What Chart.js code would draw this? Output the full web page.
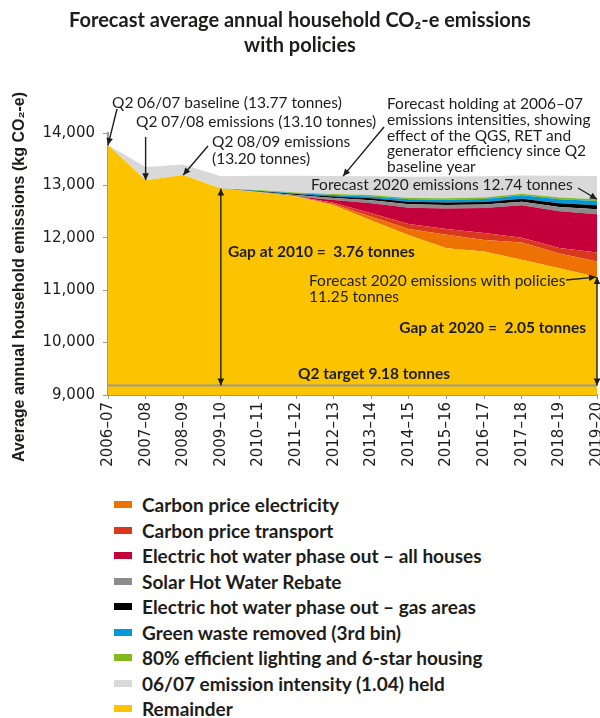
<!DOCTYPE html>
<html>
<head>
<meta charset="utf-8">
<script src="https://cdn.jsdelivr.net/npm/chart.js@4.4.1/dist/chart.umd.min.js"></script>
<style>
  html, body { margin: 0; padding: 0; background: #fff; }
  #wrap { position: relative; width: 600px; height: 718px; overflow: hidden; }
  #chartBox { position: absolute; left: 0; top: 0; width: 600px; height: 480px; }
  #legend {
    position: absolute; left: 0; top: 492px; margin: 0; padding: 0; list-style: none;
    font: bold 19px Lato, sans-serif; color: #1d1d1b;
  }
  #legend li { position: relative; height: 25.5px; line-height: 25.5px; padding-left: 142px; white-space: nowrap; }
  #legend span { position: absolute; left: 114px; top: 9px; width: 18px; height: 7px; }
</style>
</head>
<body>
<div id="wrap">
  <div id="chartBox"><canvas id="emissionsChart"></canvas></div>
  <ul id="legend"></ul>
</div>
<script>
const years = ['2006–07', '2007–08', '2008–09', '2009–10', '2010–11', '2011–12', '2012–13',
  '2013–14', '2014–15', '2015–16', '2016–17', '2017–18', '2018–19', '2019–20'];

// kg CO2-e per household, each layer is the slice it adds on top of the one below
const remainder = [13770, 13100, 13200, 12940, 12870, 12790, 12620, 12330, 12050, 11800, 11740, 11580, 11420, 11250];
const carbonElectricity = [0, 0, 0, 0, 0, 0, 20, 70, 120, 260, 220, 330, 280, 300];
const carbonTransport = [0, 0, 0, 0, 0, 0, 30, 70, 95, 110, 130, 90, 105, 170];
const hotWaterAll = [0, 0, 0, 0, 0, 0, 50, 190, 310, 390, 480, 620, 700, 730];
const solarRebate = [0, 0, 0, 0, 10, 25, 40, 55, 65, 65, 65, 70, 85, 95];
const hotWaterGas = [0, 0, 0, 0, 10, 20, 30, 40, 50, 50, 50, 55, 70, 76];
const greenWaste = [0, 0, 0, 0, 10, 15, 25, 35, 45, 50, 55, 65, 75, 83];
const lighting = [0, 0, 0, 0, 10, 15, 20, 25, 25, 28, 30, 30, 32, 32];
const intensityHeld = [0, 250, 200, 235, 275, 320, 345, 360, 405, 415, 405, 350, 415, 445];

const q2Target = 9180;
const yTicks = [9000, 10000, 11000, 12000, 13000, 14000];

const TEXT_FONT = 'Lato, sans-serif';
const TICK_FONT = '"DejaVu Sans", Verdana, sans-serif';
const INK = '#1d1d1b';

// stack order, bottom to top
const layers = [
  { label: 'Remainder', data: remainder, color: '#fcc400' },
  { label: 'Carbon price electricity', data: carbonElectricity, color: '#ee7203' },
  { label: 'Carbon price transport', data: carbonTransport, color: '#d9381e' },
  { label: 'Electric hot water phase out – all houses', data: hotWaterAll, color: '#c4003b' },
  { label: 'Solar Hot Water Rebate', data: solarRebate, color: '#8c8c8c' },
  { label: 'Electric hot water phase out – gas areas', data: hotWaterGas, color: '#000000' },
  { label: 'Green waste removed (3rd bin)', data: greenWaste, color: '#0098d8' },
  { label: '80% efficient lighting and 6-star housing', data: lighting, color: '#85b81e' },
  { label: '06/07 emission intensity (1.04) held', data: intensityHeld, color: '#d9d9d9' }
];

function stackTop(index, count) {
  let sum = 0;
  for (let k = 0; k < count; k++) sum += layers[k].data[index];
  return sum;
}

function arrow(ctx, x1, y1, x2, y2, bothEnds) {
  ctx.beginPath();
  ctx.moveTo(x1, y1);
  ctx.lineTo(x2, y2);
  ctx.stroke();
  head(ctx, x1, y1, x2, y2);
  if (bothEnds) head(ctx, x2, y2, x1, y1);
}

function head(ctx, x1, y1, x2, y2) {
  const a = Math.atan2(y2 - y1, x2 - x1);
  const len = 7, w = 3.3;
  ctx.beginPath();
  ctx.moveTo(x2, y2);
  ctx.lineTo(x2 - len * Math.cos(a) + w * Math.sin(a), y2 - len * Math.sin(a) - w * Math.cos(a));
  ctx.lineTo(x2 - len * Math.cos(a) - w * Math.sin(a), y2 - len * Math.sin(a) + w * Math.cos(a));
  ctx.closePath();
  ctx.fill();
}

const annotations = {
  id: 'annotations',
  afterDatasetsDraw(chart) {
    const { ctx, scales: { x, y } } = chart;
    const last = years.length - 1;
    const yTarget = y.getPixelForValue(q2Target);

    ctx.save();
    // target line
    ctx.strokeStyle = '#9a9a9a';
    ctx.lineWidth = 2;
    ctx.beginPath();
    ctx.moveTo(x.left, yTarget);
    ctx.lineTo(x.right, yTarget);
    ctx.stroke();

    ctx.strokeStyle = INK;
    ctx.fillStyle = INK;
    ctx.lineWidth = 1.4;

    // gap arrows
    const x2010 = x.getPixelForValue(3);
    const x2020 = x.getPixelForValue(last);
    arrow(ctx, x2010, yTarget, x2010, y.getPixelForValue(remainder[3]), true);
    arrow(ctx, x2020, yTarget, x2020, y.getPixelForValue(remainder[last]), true);

    // pointer arrows to the series
    arrow(ctx, 117, 109, x.getPixelForValue(0), y.getPixelForValue(remainder[0]));
    arrow(ctx, x.getPixelForValue(1), 137, x.getPixelForValue(1), y.getPixelForValue(remainder[1]));
    arrow(ctx, 208, 146, x.getPixelForValue(2), y.getPixelForValue(remainder[2]));
    const heldTop = (stackTop(6, layers.length) + stackTop(7, layers.length)) / 2;
    arrow(ctx, 384, 127, x.getPixelForValue(6.25), y.getPixelForValue(heldTop));
    arrow(ctx, 578, 188, x2020, y.getPixelForValue(stackTop(last, layers.length - 1)));
    arrow(ctx, 566, 280, x2020 - 1, y.getPixelForValue(remainder[last]));

    // texts
    ctx.textBaseline = 'middle';
    ctx.textAlign = 'left';
    ctx.font = '15.5px ' + TEXT_FONT;
    ctx.fillText('Q2 06/07 baseline (13.77 tonnes)', 112, 103);
    ctx.fillText('Q2 07/08 emissions (13.10 tonnes)', 136, 122);
    ctx.fillText('Q2 08/09 emissions', 212, 142);
    ctx.fillText('(13.20 tonnes)', 212, 159);
    const note = ['Forecast holding at 2006–07', 'emissions intensities, showing',
      'effect of the QGS, RET and', 'generator efficiency since Q2', 'baseline year'];
    note.forEach((line, i) => ctx.fillText(line, 387, 104 + i * 15.8));
    ctx.fillText('Forecast 2020 emissions 12.74 tonnes', 311, 185);
    ctx.fillText('Forecast 2020 emissions with policies', 309, 281);
    ctx.fillText('11.25 tonnes', 309, 297);

    ctx.font = 'bold 15.5px ' + TEXT_FONT;
    ctx.fillText('Gap at 2010 =  3.76 tonnes', 228, 252);
    ctx.textAlign = 'right';
    ctx.fillText('Gap at 2020 =  2.05 tonnes', 586, 328);
    ctx.textAlign = 'center';
    ctx.fillText('Q2 target 9.18 tonnes', 374, yTarget - 12);

    // y axis title
    ctx.translate(20, 277);
    ctx.rotate(-Math.PI / 2);
    ctx.font = 'bold 16px "Liberation Sans", Arial, sans-serif';
    ctx.fillText('Average annual household emissions (kg CO₂-e)', 0, 0);
    ctx.restore();
  }
};

const chart = new Chart(document.getElementById('emissionsChart'), {
  type: 'line',
  data: {
    labels: years,
    datasets: layers.map((layer, i) => ({
      label: layer.label,
      data: layer.data,
      backgroundColor: layer.color,
      borderColor: layer.color,
      borderWidth: 0,
      pointRadius: 0,
      fill: i === 0 ? 'origin' : '-1',
      tension: 0
    }))
  },
  options: {
    responsive: true,
    maintainAspectRatio: false,
    animation: false,
    layout: { padding: 0 },
    plugins: {
      legend: { display: false },
      tooltip: { enabled: false },
      title: {
        display: true,
        text: ['Forecast average annual household CO₂-e emissions', 'with policies'],
        color: INK,
        font: { family: TEXT_FONT, size: 20, weight: 'bold', lineHeight: 1.25 },
        padding: { top: 8, bottom: 75 }
      }
    },
    scales: {
      x: {
        z: 1,
        grid: { drawOnChartArea: false, drawTicks: true, tickLength: 4, color: '#9a9a9a' },
        border: { color: '#9a9a9a', width: 2 },
        ticks: {
          autoSkip: false, maxRotation: 90, minRotation: 90, padding: 3,
          color: INK, font: { family: TICK_FONT, size: 15 }
        },
        afterFit(scale) {
          scale.paddingLeft = 0;
          scale.paddingRight = 3;
          scale.height = 85;
        }
      },
      y: {
        z: 1,
        stacked: true,
        min: yTicks[0],
        max: yTicks[yTicks.length - 1],
        afterBuildTicks(scale) {
          scale.ticks = yTicks.map(v => ({ value: v }));
        },
        grid: { drawOnChartArea: false, drawTicks: true, tickLength: 5, color: '#9a9a9a' },
        border: { color: '#9a9a9a', width: 2 },
        ticks: {
          padding: 8, color: INK, font: { family: TICK_FONT, size: 15 },
          callback: v => v.toLocaleString('en-US')
        },
        afterFit(scale) {
          scale.width = 108;
        }
      }
    }
  },
  plugins: [annotations]
});

// legend: policies first, remainder last
const legendList = document.getElementById('legend');
[...layers.slice(1), layers[0]].forEach(layer => {
  const li = document.createElement('li');
  const box = document.createElement('span');
  box.style.background = layer.color;
  li.appendChild(box);
  li.appendChild(document.createTextNode(layer.label));
  legendList.appendChild(li);
});
</script>
</body>
</html>
